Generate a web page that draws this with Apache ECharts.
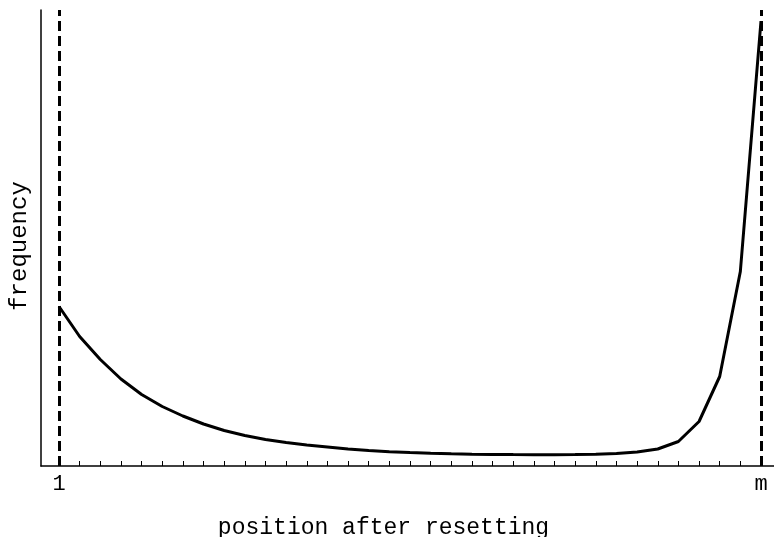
<!DOCTYPE html>
<html>
<head>
<meta charset="utf-8">
<script src="https://cdn.jsdelivr.net/npm/echarts@6/dist/echarts.min.js"></script>
<style>
html,body{margin:0;padding:0;background:#fff;}
#c{width:774px;height:537px;}
</style>
</head>
<body>
<div id="c"></div>
<script>
const positions = [1,2,3,4,5,6,7,8,9,10,11,12,13,14,15,16,17,18,19,20,21,22,23,24,25,26,27,28,29,30,31,32,33,34,35];
const frequency = [159.5,129.5,106.5,87,71.5,59.5,50,42,35.5,30.5,26.5,23.5,21,19,17,15.5,14.3,13.5,12.8,12.2,11.8,11.6,11.4,11.3,11.3,11.4,11.7,12.5,14,17,24.5,44.5,89.5,194.5,445];
const tickLabels = {1: '1', 35: 'm'};
const boundaryPositions = [1, 35];
const xTitle = 'position after resetting';
const yTitle = 'frequency';

const font = 'Liberation Mono';
const chart = echarts.init(document.getElementById('c'), null, {renderer: 'canvas'});
chart.setOption({
  animation: false,
  backgroundColor: '#fff',
  grid: {left: 41, right: 0, top: 10, bottom: 71, containLabel: false, outerBoundsMode: 'none'},
  xAxis: {
    type: 'value',
    min: 0.128,
    max: 35.63,
    splitLine: {show: false},
    axisLine: {lineStyle: {color: '#000', width: 1.5}},
    axisTick: {show: true, inside: true, length: 5, customValues: positions, lineStyle: {color: '#000', width: 1}},
    axisLabel: {
      customValues: boundaryPositions,
      formatter: v => tickLabels[v] || '',
      color: '#000', fontFamily: font, fontSize: 22, margin: 7
    },
    name: xTitle,
    nameLocation: 'middle',
    nameGap: 50,
    nameTextStyle: {color: '#000', fontFamily: font, fontSize: 23, padding: [0, 48, 0, 0]}
  },
  yAxis: {
    type: 'value',
    min: 0,
    max: 456,
    splitLine: {show: false},
    axisLine: {show: true, lineStyle: {color: '#000', width: 1.5}},
    axisTick: {show: false},
    axisLabel: {show: false},
    name: yTitle,
    nameLocation: 'middle',
    nameGap: 9,
    nameRotate: 90,
    nameTextStyle: {color: '#000', fontFamily: font, fontSize: 24, padding: [0, 16, 0, 0]}
  },
  series: [{
    type: 'line',
    data: positions.map((p, i) => [p, frequency[i]]),
    showSymbol: false,
    smooth: false,
    lineStyle: {color: '#000', width: 3},
    z: 3,
    markLine: {
      silent: true,
      symbol: ['none', 'none'],
      label: {show: false},
      lineStyle: {color: '#000', width: 3, type: [10, 5]},
      data: boundaryPositions.map(p => ({xAxis: p}))
    }
  }]
});
</script>
</body>
</html>
